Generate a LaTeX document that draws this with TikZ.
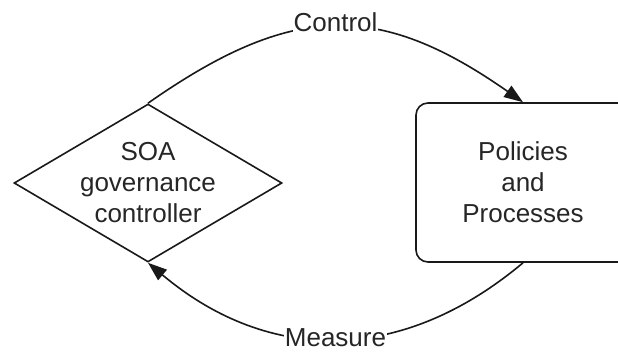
\documentclass[tikz,border=0pt]{standalone}
\usepackage{fontspec}
\setmainfont{Liberation Sans}
\usetikzlibrary{shapes.geometric,arrows.meta}
\begin{document}
\begin{tikzpicture}[x=1pt,y=1pt,
  shapeline/.style={draw=black!90, line width=1.6pt},
  lbl/.style={font=\fontsize{26}{31}\selectfont, text=black!85, align=center},
  conn/.style={line width=1.6pt, draw=black!90, -{Triangle[length=19pt,width=13.5pt]}},
  edgelbl/.style={font=\fontsize{26}{31}\selectfont, text=black!85, fill=white, inner xsep=1pt, inner ysep=0.5pt}
]
\useasboundingbox (0,0) rectangle (618,351);
\node[shapeline, diamond, minimum width=268pt, minimum height=158pt, inner sep=0pt] (gov) at (148,168) {};
\node[lbl] (govtext) at (gov.center) {SOA\\governance\\controller};
\node[shapeline, rectangle, rounded corners=12pt, minimum width=214pt, minimum height=159pt] (pp) at (523,168.5) {};
\node[lbl] (pptext) at (pp.center) {Policies\\and\\Processes};
\draw[conn] (gov.north) to[out=35,in=145,looseness=1.2] node[edgelbl, yshift=5pt] (ctl) {Control} (pp.north);
\draw[conn] (pp.south) to[out=220,in=320,looseness=1.08] node[edgelbl, yshift=1pt] (meas) {Measure} (gov.south);
\end{tikzpicture}
\end{document}
